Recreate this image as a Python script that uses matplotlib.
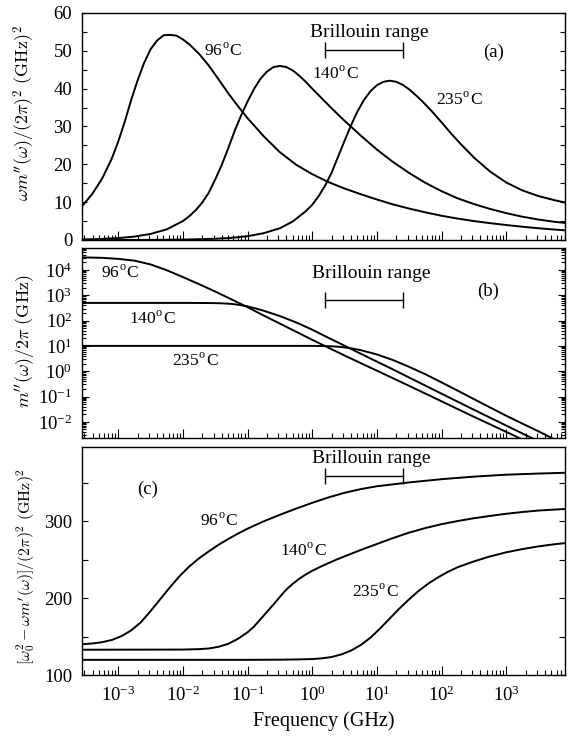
import numpy as np
import matplotlib
matplotlib.use('Agg')
import matplotlib.pyplot as plt
from matplotlib.ticker import FixedLocator, MultipleLocator, NullFormatter, LogFormatterSciNotation

plt.rcParams['font.family'] = ['Liberation Serif', 'DejaVu Serif']
plt.rcParams['mathtext.fontset'] = 'cm'

# frequencies are stored as log10(f / GHz)
# panel (a): omega m''(omega) / (2 pi)^2  [GHz^2]
lf_a96 = [-3.56, -3.4, -3.25, -3.1, -3.0, -2.9, -2.8, -2.7, -2.6, -2.5, -2.4, -2.3, -2.2, -2.1,
          -2.0, -1.9, -1.75, -1.6, -1.45, -1.3, -1.15, -1.0, -0.75, -0.5, -0.25, 0.0, 0.25, 0.5,
          0.75, 1.0, 1.25, 1.5, 1.75, 2.0, 2.25, 2.5, 2.75, 3.0, 3.25, 3.5, 3.75, 3.91]
a96 = [8.9, 12.2, 16.2, 21.5, 26.0, 31.2, 37.0, 42.2, 46.8, 50.4, 52.7, 54.1, 54.2, 54.0,
       53.0, 51.7, 49.2, 46.1, 42.5, 38.8, 35.4, 32.2, 27.4, 23.2, 19.9, 17.4, 15.3, 13.6,
       12.1, 10.7, 9.4, 8.3, 7.3, 6.4, 5.65, 5.0, 4.45, 3.95, 3.5, 3.1, 2.75, 2.55]

lf_a140 = [-3.56, -3.25, -3.0, -2.75, -2.5, -2.25, -2.0, -1.9, -1.8, -1.7, -1.6, -1.5, -1.4, -1.3,
           -1.2, -1.1, -1.0, -0.9, -0.8, -0.7, -0.6, -0.5, -0.4, -0.3, -0.2, -0.1, 0.0, 0.15,
           0.3, 0.5, 0.75, 1.0, 1.25, 1.5, 1.75, 2.0, 2.25, 2.5, 2.75, 3.0, 3.25, 3.5, 3.75, 3.91]
a140 = [0.14, 0.28, 0.5, 0.9, 1.6, 2.8, 5.0, 6.3, 7.9, 9.9, 12.5, 16.0, 19.8, 24.2,
        28.8, 32.9, 36.6, 39.9, 42.6, 44.5, 45.7, 46.0, 45.7, 44.8, 43.4, 41.8, 40.0, 37.4,
        34.8, 31.5, 27.6, 23.9, 20.6, 17.7, 15.1, 12.9, 11.0, 9.5, 8.2, 7.1, 6.15, 5.4, 4.8, 4.5]

lf_a235 = [-3.56, -3.0, -2.5, -2.0, -1.5, -1.25, -1.0, -0.75, -0.5, -0.3, -0.1, 0.0, 0.1, 0.2,
           0.3, 0.4, 0.5, 0.6, 0.7, 0.8, 0.9, 1.0, 1.1, 1.2, 1.3, 1.4, 1.5, 1.6, 1.7, 1.85,
           2.0, 2.15, 2.3, 2.5, 2.75, 3.0, 3.25, 3.5, 3.75, 3.91]
a235 = [0.003, 0.01, 0.03, 0.1, 0.32, 0.56, 1.0, 1.8, 3.1, 4.9, 7.6, 9.3, 11.6, 14.4,
        17.8, 22.0, 26.2, 30.3, 34.0, 37.0, 39.3, 40.9, 41.8, 42.1, 41.8, 41.0, 39.8, 38.3, 36.7, 34.0,
        31.1, 28.1, 25.3, 21.8, 18.1, 15.2, 13.1, 11.6, 10.5, 9.9]

# panel (b): m''(omega) / 2 pi  [GHz]
lf_b96 = [-3.56, -3.25, -3.0, -2.75, -2.5, -2.25, -2.0, -1.75, -1.5, -1.25, -1.0, -0.75, -0.5,
          -0.25, 0.0, 0.25, 0.5, 0.75, 1.0, 1.5, 2.0, 2.5, 3.0, 3.5, 3.91]
b96 = [3.16e4, 3.02e4, 2.75e4, 2.34e4, 1.66e4, 9.8e3, 5.25e3, 2.75e3, 1.41e3, 692, 339, 158, 76,
       36.3, 17.4, 8.5, 4.17, 2.09, 1.05, 0.263, 0.0646, 0.0158, 0.004, 0.001, 3.2e-4]

lf_b140 = [-3.56, -2.0, -1.75, -1.5, -1.375, -1.25, -1.125, -1.0, -0.875, -0.75, -0.5, -0.25,
           0.0, 0.25, 0.5, 0.75, 1.0, 1.25, 1.5, 2.0, 2.5, 3.0, 3.5, 3.91]
b140 = [500, 500, 498, 490, 479, 457, 417, 363, 302, 245, 151, 85,
        43.7, 20.9, 10.2, 4.9, 2.4, 1.17, 0.56, 0.129, 0.030, 0.0071, 0.0017, 5.4e-4]

lf_b235 = [-3.56, 0.0, 0.25, 0.4, 0.5, 0.625, 0.75, 0.875, 1.0, 1.25, 1.5, 1.75, 2.0, 2.25,
           2.5, 2.75, 3.0, 3.25, 3.5, 3.75, 3.91]
b235 = [10, 10, 9.8, 9.3, 8.7, 7.85, 6.8, 5.6, 4.6, 2.75, 1.48, 0.76, 0.36, 0.17,
        0.079, 0.037, 0.0174, 0.0085, 0.0042, 0.002, 0.0013]

# panel (c): [omega0^2 - omega m'(omega)] / (2 pi)^2  [GHz^2]
lf_c96 = [-3.56, -3.4, -3.25, -3.1, -2.95, -2.8, -2.65, -2.5, -2.35, -2.2, -2.05, -1.9, -1.75,
          -1.6, -1.45, -1.3, -1.15, -1.0, -0.75, -0.5, -0.25, 0.0, 0.25, 0.5, 0.75, 1.0, 1.5,
          2.0, 2.5, 3.0, 3.5, 3.91]
c96 = [140.5, 141.5, 143.2, 146.0, 151.0, 158.5, 169.0, 183.5, 199.0, 214.5, 229.0, 241.5, 252.0,
       261.0, 269.5, 277.0, 284.0, 290.5, 300.0, 308.5, 316.5, 324.0, 331.0, 337.0, 341.8, 345.5, 350.5,
       354.7, 358.0, 360.5, 362.0, 363.0]

lf_c140 = [-3.56, -2.0, -1.75, -1.6, -1.45, -1.3, -1.15, -1.0, -0.9, -0.8, -0.7, -0.6, -0.5,
           -0.4, -0.3, -0.2, -0.1, 0.0, 0.125, 0.25, 0.375, 0.5, 0.75, 1.0, 1.25, 1.5, 1.75,
           2.0, 2.25, 2.5, 2.75, 3.0, 3.25, 3.5, 3.75, 3.91]
c140 = [133.4, 133.6, 134.2, 135.0, 137.2, 141.0, 147.5, 156.0, 163.5, 173.0, 182.5, 192.0, 202.0,
        211.5, 219.0, 225.5, 231.0, 235.8, 241.0, 245.8, 250.3, 254.6, 262.8, 270.6, 278.3, 285.4, 291.3,
        296.3, 300.4, 304.0, 307.0, 309.8, 312.1, 314.0, 315.3, 316.0]

lf_c235 = [-3.56, -1.0, -0.5, -0.25, 0.0, 0.15, 0.3, 0.45, 0.6, 0.75, 0.9, 1.05, 1.2, 1.35, 1.5,
           1.65, 1.8, 1.95, 2.1, 2.25, 2.5, 2.75, 3.0, 3.25, 3.5, 3.75, 3.91]
c235 = [120.3, 120.3, 120.5, 120.8, 121.3, 122.2, 124.0, 127.3, 132.3, 139.5, 149.0, 161.0, 174.0, 187.0, 199.0,
        210.0, 219.5, 227.5, 234.5, 240.5, 248.0, 254.5, 259.8, 264.0, 267.5, 270.3, 271.7]

brillouin = [1.6, 25.0]   # GHz
temps = ['96', '140', '235']

xmin, xmax = 10 ** -3.56, 10 ** 3.91
ymin_b, ymax_b = 10 ** -2.64, 10 ** 4.87


def f(lf):
    return 10.0 ** np.array(lf)


def tlab(t):
    return t + r'$^{\mathdefault{o}}$C'


def log_minor(lo, hi):
    # minor tick positions 2..9 x 10^n that fall inside [lo, hi]
    pts = [k * 10.0 ** n for n in range(-5, 6) for k in range(2, 10)]
    return [p for p in pts if lo <= p <= hi]


fig = plt.figure(figsize=(5.74, 7.40), dpi=100)
ax_a = fig.add_axes([0.1429, 0.6757, 0.8415, 0.3068])
ax_b = fig.add_axes([0.1429, 0.4081, 0.8415, 0.2568])
ax_c = fig.add_axes([0.1429, 0.0872, 0.8415, 0.3088])

lw = 1.4
for ax, curves in [(ax_a, [(lf_a96, a96), (lf_a140, a140), (lf_a235, a235)]),
                   (ax_b, [(lf_b96, b96), (lf_b140, b140), (lf_b235, b235)]),
                   (ax_c, [(lf_c96, c96), (lf_c140, c140), (lf_c235, c235)])]:
    for lf, v in curves:
        ax.plot(f(lf), v, color='black', lw=lw)
    ax.set_xscale('log')
    ax.set_xlim(xmin, xmax)
    ax.xaxis.set_major_locator(FixedLocator(10.0 ** np.arange(-3, 4)))
    ax.xaxis.set_minor_locator(FixedLocator(log_minor(xmin, xmax)))
    ax.xaxis.set_major_formatter(LogFormatterSciNotation())
    ax.xaxis.set_minor_formatter(NullFormatter())
    ax.tick_params(axis='x', which='major', direction='in', length=6.5, width=0.8,
                   top=False, bottom=True, labelsize=13.5, pad=7)
    ax.tick_params(axis='x', which='minor', direction='in', length=3.5, width=0.8,
                   top=False, bottom=True)
    ax.tick_params(axis='y', which='both', direction='in', left=True, right=True,
                   width=0.8, labelsize=13.5, pad=7)
    for s in ax.spines.values():
        s.set_linewidth(1.0)

# panel (a)
ax_a.set_ylim(0, 60)
ax_a.yaxis.set_major_locator(MultipleLocator(10))
ax_a.yaxis.set_minor_locator(MultipleLocator(5))
ax_a.tick_params(axis='y', which='both', length=3.6)
ax_a.tick_params(axis='x', labelbottom=False)
ax_a.set_ylabel(r'$\omega m^{\prime\prime}(\omega)/(2\pi)^2\ (\mathrm{GHz})^2$', fontsize=13)
ax_a.yaxis.set_label_coords(-0.093, 0.557)
ax_a.text(10 ** -1.38, 49.6, tlab(temps[0]), fontsize=12.5, ha='center', va='center')
ax_a.text(10 ** 0.35, 43.6, tlab(temps[1]), fontsize=12.5, ha='center', va='center')
ax_a.text(10 ** 2.28, 36.7, tlab(temps[2]), fontsize=12.5, ha='center', va='center')
ax_a.text(10 ** 2.81, 49.7, '(a)', fontsize=13.5, ha='center', va='center')
ax_a.text(10 ** 0.88, 54.9, 'Brillouin range', fontsize=14, ha='center', va='center')
ax_a.plot(brillouin, [50.2, 50.2], color='black', lw=1.0, marker='|', ms=11, mew=1.0)

# panel (b)
ax_b.set_yscale('log')
ax_b.set_ylim(ymin_b, ymax_b)
ax_b.yaxis.set_major_locator(FixedLocator(10.0 ** np.arange(-2, 5)))
ax_b.yaxis.set_minor_locator(FixedLocator(log_minor(ymin_b, ymax_b)))
ax_b.yaxis.set_major_formatter(LogFormatterSciNotation())
ax_b.yaxis.set_minor_formatter(NullFormatter())
ax_b.tick_params(axis='y', which='major', length=5)
ax_b.tick_params(axis='y', which='minor', length=2.8)
ax_b.tick_params(axis='x', labelbottom=False)
ax_b.set_ylabel(r'$m^{\prime\prime}(\omega)/2\pi\ (\mathrm{GHz})$', fontsize=13)
ax_b.yaxis.set_label_coords(-0.093, 0.51)
ax_b.text(10 ** -2.98, 10 ** 3.83, tlab(temps[0]), fontsize=12.5, ha='center', va='center')
ax_b.text(10 ** -2.48, 10 ** 2.01, tlab(temps[1]), fontsize=12.5, ha='center', va='center')
ax_b.text(10 ** -1.81, 10 ** 0.38, tlab(temps[2]), fontsize=12.5, ha='center', va='center')
ax_b.text(10 ** 2.72, 10 ** 3.16, '(b)', fontsize=13.5, ha='center', va='center')
ax_b.text(10 ** 0.91, 10 ** 3.87, 'Brillouin range', fontsize=14, ha='center', va='center')
ax_b.plot(brillouin, [630, 630], color='black', lw=1.0, marker='|', ms=12, mew=1.0)

# panel (c)
ax_c.set_ylim(100, 396.5)
ax_c.yaxis.set_major_locator(MultipleLocator(100))
ax_c.yaxis.set_minor_locator(MultipleLocator(50))
ax_c.tick_params(axis='y', which='both', length=4.5)
ax_c.set_ylabel(r'$[\omega_0^2-\omega m^{\prime}(\omega)]/(2\pi)^2\ (\mathrm{GHz})^2$', fontsize=11.5)
ax_c.yaxis.set_label_coords(-0.093, 0.477)
ax_c.set_xlabel('Frequency (GHz)', fontsize=14.5, labelpad=5)
ax_c.text(10 ** -2.55, 342, '(c)', fontsize=13.5, ha='center', va='center')
ax_c.text(10 ** -1.44, 298.4, tlab(temps[0]), fontsize=12.5, ha='center', va='center')
ax_c.text(10 ** -0.13, 260, tlab(temps[1]), fontsize=12.5, ha='center', va='center')
ax_c.text(10 ** 0.98, 207, tlab(temps[2]), fontsize=12.5, ha='center', va='center')
ax_c.text(10 ** 0.91, 381, 'Brillouin range', fontsize=14, ha='center', va='center')
ax_c.plot(brillouin, [358.7, 358.7], color='black', lw=1.0, marker='|', ms=12, mew=1.0)

fig.savefig('out.png', dpi=100)
